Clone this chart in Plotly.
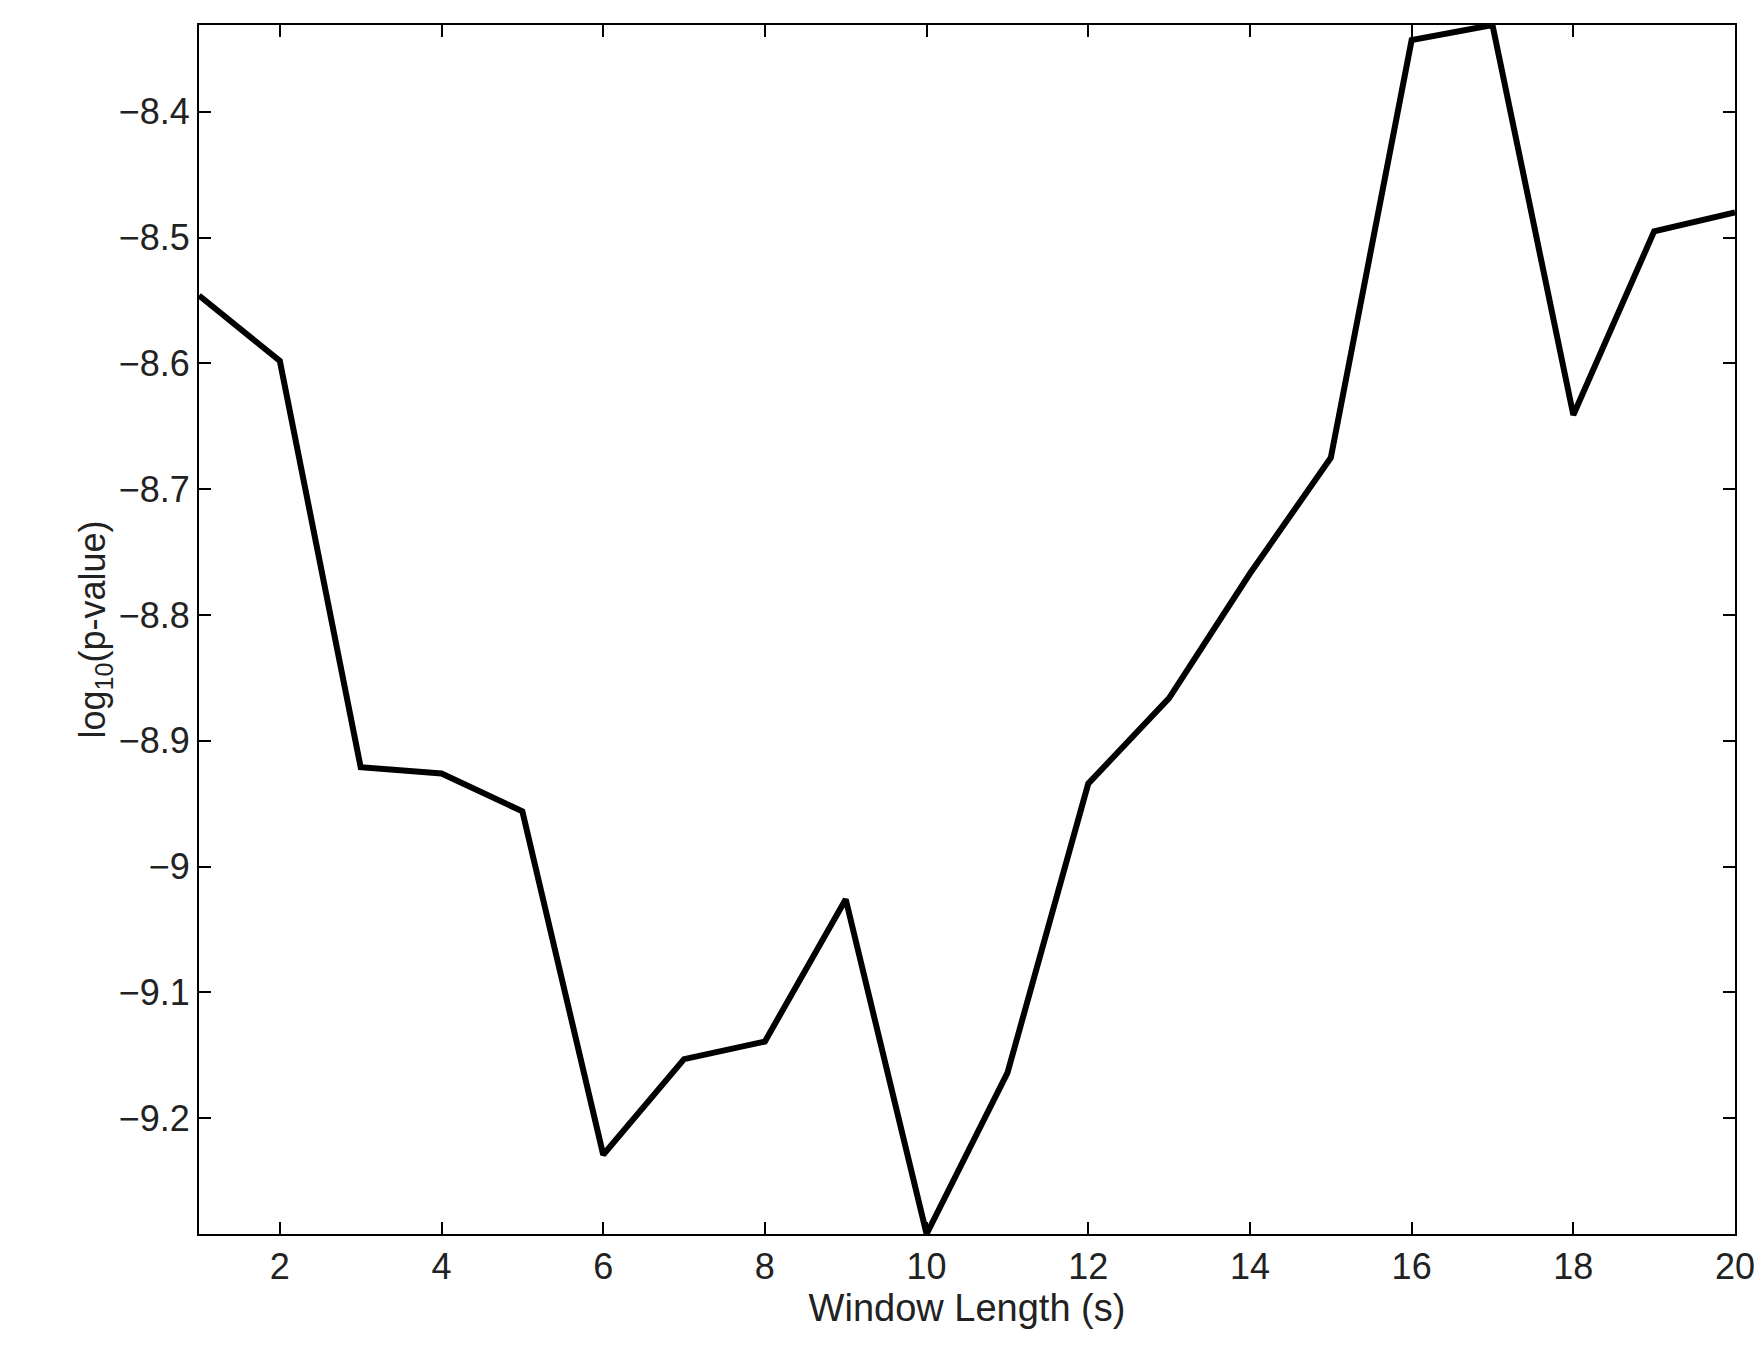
import plotly.graph_objects as go

window_length = list(range(1, 21))
log_p = [-8.546, -8.598, -8.921, -8.926, -8.956, -9.229, -9.153, -9.139, -9.026, -9.292,
         -9.164, -8.934, -8.866, -8.767, -8.675, -8.343, -8.331, -8.641, -8.495, -8.480]

fig = go.Figure(go.Scatter(x=window_length, y=log_p, mode="lines",
                           line=dict(color="black", width=6)))

axis_style = dict(showline=True, linecolor="black", linewidth=2, mirror="ticks",
                  ticks="inside", ticklen=12, tickwidth=1.5, tickcolor="black",
                  showgrid=False, zeroline=False,
                  tickfont=dict(family="Liberation Sans", size=36, color="#222"))

fig.update_layout(
    width=1764, height=1359,
    margin=dict(l=191, r=37, t=17, b=133),
    plot_bgcolor="white", paper_bgcolor="white",
    showlegend=False,
    xaxis=dict(range=[1, 20], tickvals=list(range(2, 21, 2)),
               title=dict(text="Window Length (s)", standoff=8,
                          font=dict(family="Liberation Sans", size=38, color="#222")),
               **axis_style),
    yaxis=dict(range=[min(log_p), max(log_p)], dtick=0.1,
               title=dict(text="log<sub>10</sub>(p-value)", standoff=2,
                          font=dict(family="Liberation Sans", size=36, color="#222")),
               **axis_style),
)

fig.write_html("out.html")
